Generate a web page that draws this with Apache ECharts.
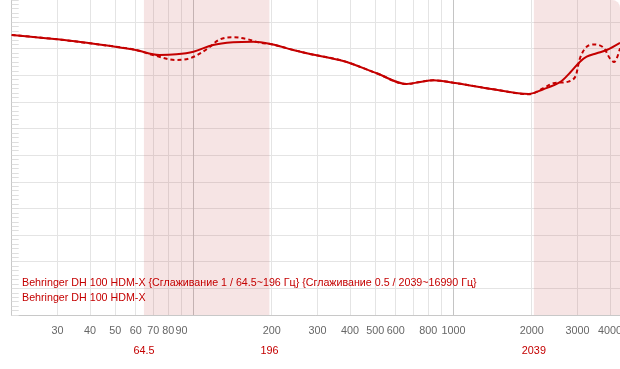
<!DOCTYPE html>
<html>
<head>
<meta charset="utf-8">
<script src="https://cdn.jsdelivr.net/npm/echarts@6/dist/echarts.min.js"></script>
<style>
  html, body { margin: 0; padding: 0; background: #fff; overflow: hidden; }
  #chart { width: 620px; height: 369px; border-top-right-radius: 8px; overflow: hidden; background: #fff; }
</style>
</head>
<body>
<div id="chart"></div>
<script>
// ---- data ----
const seriesNames = [
  'Behringer DH 100 HDM-X {Сглаживание 1 / 64.5~196 Гц} {Сглаживание 0.5 / 2039~16990 Гц}',
  'Behringer DH 100 HDM-X'
];
const smoothFreq = [20, 30, 40, 50, 60, 74, 86, 100, 119, 142, 170, 200, 242, 281, 377, 507, 661, 744, 837, 1000, 1423, 1950, 2216, 2570, 2808, 3068, 3255, 3557, 3885, 4372];
const smoothDb   = [92.56, 91.75, 91.0, 90.37, 89.75, 88.81, 88.94, 89.43, 90.68, 91.19, 91.3, 90.82, 89.75, 89.0, 87.68, 85.37, 83.36, 83.74, 84.06, 83.61, 82.37, 81.5, 82.37, 83.7, 85.48, 87.55, 88.49, 89.13, 89.75, 91.1];
const rawFreq = [20, 30, 40, 50, 60, 72, 85, 97, 112.5, 126.6, 142, 160, 180, 200, 242, 281, 377, 507, 661, 744, 837, 1000, 1423, 1950, 2216, 2424, 2769, 2938, 3067, 3255, 3504, 3771, 4000, 4146, 4372];
const rawDb   = [92.56, 91.75, 91.0, 90.37, 89.75, 88.62, 87.87, 88.19, 89.88, 91.75, 92.13, 91.81, 91.12, 90.82, 89.75, 89.0, 87.68, 85.37, 83.36, 83.74, 84.06, 83.61, 82.37, 81.45, 82.56, 83.49, 83.8, 84.68, 88.19, 90.37, 90.78, 90.21, 88.15, 87.49, 90.07];
const tickLabels = [30, 40, 50, 60, 70, 80, 90, 200, 300, 400, 500, 600, 800, 1000, 2000, 3000, 4000];
const gridFreqs = [30, 40, 50, 60, 70, 80, 90, 100, 200, 300, 400, 500, 600, 700, 800, 900, 1000, 2000, 3000, 4000];
const decadeFreqs = [100, 1000];
const bandEdges = [64.5, 196, 2039];
const bands = [[64.5, 196], [2039, 16990]];
const freqMin = 20, freqMax = 4372;

// ---- chart ----
const L = Math.log10;
const fmtF = v => String(Math.round(Math.pow(10, v) * 10) / 10);
const RED = '#c40000';
const FONT = "'Liberation Sans', Arial, sans-serif";

const chart = echarts.init(document.getElementById('chart'), null, { renderer: 'canvas' });
const baseX = { type: 'value', min: L(freqMin), max: L(freqMax) };
chart.setOption({
  animation: false,
  backgroundColor: '#fff',
  grid: { left: 11.7, right: 0, top: -4.64, bottom: 54, outerBoundsMode: 'none', containLabel: false },
  legend: {
    data: seriesNames,
    orient: 'vertical', left: 17, top: 277, padding: 0,
    icon: 'none', itemWidth: 0, itemHeight: 12, itemGap: 4,
    selectedMode: false,
    textStyle: { color: RED, fontSize: 10.7, fontFamily: FONT }
  },
  xAxis: [
    Object.assign({}, baseX, {
      position: 'bottom',
      axisLine: { show: true, lineStyle: { color: '#c8c8c8', width: 1 } },
      axisTick: { show: false, customValues: gridFreqs.map(L) },
      axisLabel: { customValues: tickLabels.map(L), formatter: fmtF, color: '#666', fontSize: 10.8, fontFamily: FONT, margin: 11 },
      splitLine: { show: true, lineStyle: { color: '#e4e4e4', width: 1 } }
    }),
    Object.assign({}, baseX, {
      position: 'bottom', offset: 20,
      axisLine: { show: false }, axisTick: { show: false },
      axisLabel: { customValues: bandEdges.map(L), formatter: fmtF, color: RED, fontSize: 10.8, fontFamily: FONT, margin: 11 },
      splitLine: { show: false }
    }),
    Object.assign({}, baseX, {
      position: 'top',
      axisLine: { show: false }, axisLabel: { show: false },
      axisTick: { show: false, customValues: decadeFreqs.map(L) },
      splitLine: { show: true, lineStyle: { color: '#c4c4c4', width: 1 } }
    })
  ],
  yAxis: {
    type: 'value', min: 40, max: 100, interval: 5,
    axisLine: { show: true, lineStyle: { color: '#c8c8c8', width: 1 } },
    axisTick: { show: true, inside: true, length: 7, lineStyle: { color: '#dedede' } },
    minorTick: { show: true, splitNumber: 6, length: 7, lineStyle: { color: '#dedede' } },
    axisLabel: { show: false },
    splitLine: { show: true, lineStyle: { color: '#e4e4e4', width: 1 } }
  },
  series: [
    {
      name: seriesNames[0], type: 'line', xAxisIndex: 0,
      data: smoothFreq.map((f, i) => [L(f), smoothDb[i]]),
      smooth: 0.35, showSymbol: false, symbol: 'none',
      lineStyle: { color: RED, width: 2 }, itemStyle: { color: RED },
      markArea: {
        silent: true,
        itemStyle: { color: 'rgba(200,80,80,0.155)' },
        data: bands.map(b => [{ xAxis: L(b[0]) }, { xAxis: L(b[1]) }])
      }
    },
    {
      name: seriesNames[1], type: 'line', xAxisIndex: 0,
      data: rawFreq.map((f, i) => [L(f), rawDb[i]]),
      smooth: 0.35, showSymbol: false, symbol: 'none',
      lineStyle: { color: RED, width: 2, type: [4, 3] }, itemStyle: { color: RED }
    }
  ]
});
</script>
</body>
</html>
